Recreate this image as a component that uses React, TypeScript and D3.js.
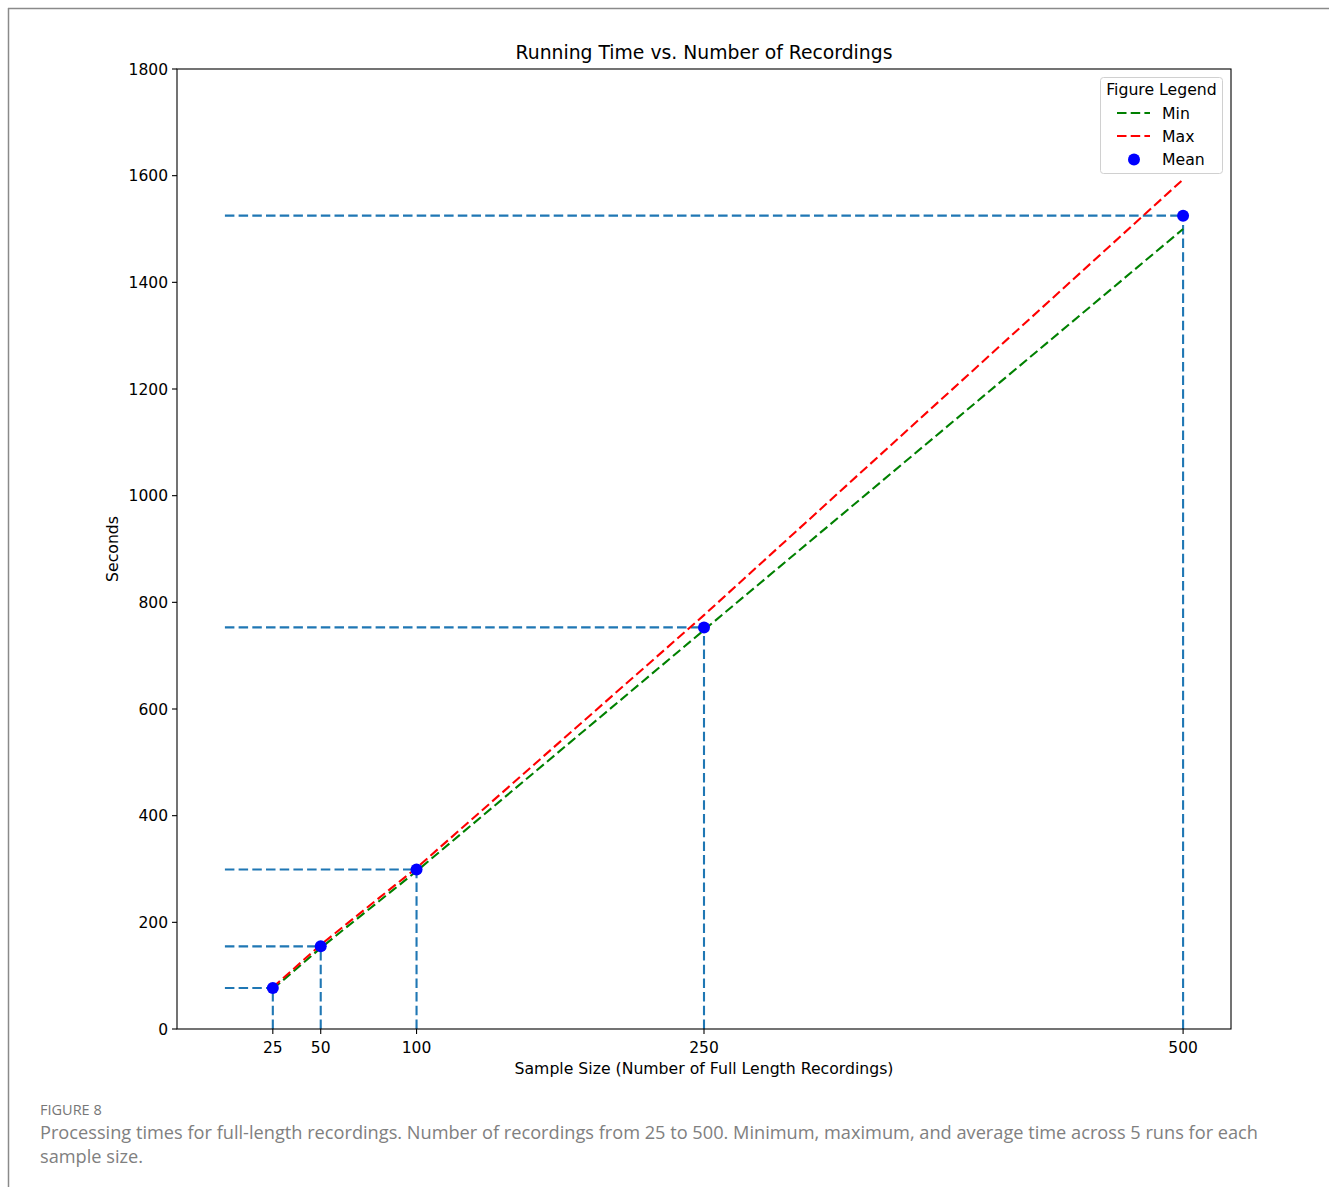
import React from "react";
import * as d3 from "d3";

const sampleSizes = [25, 50, 100, 250, 500];
const meanTimes = [77, 155, 299, 753, 1525];
const minTimes = [75, 152, 296, 748, 1500];
const maxTimes = [78, 158, 302, 776, 1593];
const yTicks = [0, 200, 400, 600, 800, 1000, 1200, 1400, 1600, 1800];
const xTicks = [25, 50, 100, 250, 500];

const W = 1329;
const H = 1187;
const left = 177, right = 1231, top = 69, bottom = 1029;
const FONT = "DejaVu Sans, sans-serif";
const FS = 15.5;

export default function App() {
  const x = d3.scaleLinear().domain([-25, 525]).range([left, right]);
  const y = d3.scaleLinear().domain([0, 1800]).range([bottom, top]);
  const line = d3
    .line<number>()
    .x((_, i) => x(sampleSizes[i]))
    .y((d) => y(d));
  const blue = "#1f77b4";
  const dash = "9.5,4.2";
  return (
    <svg
      width={W}
      height={H}
      style={{ position: "absolute", left: 0, top: 0, background: "#fff" }}
    >
      <rect x={0} y={0} width={W} height={H} fill="#fff" />
      {/* page frame */}
      <line x1={8} y1={8.5} x2={W} y2={8.5} stroke="#8a8a8a" strokeWidth={1.5} />
      <line x1={8.5} y1={8} x2={8.5} y2={H} stroke="#8a8a8a" strokeWidth={1.5} />

      {/* title */}
      <text x={(left + right) / 2} y={59} textAnchor="middle" fontFamily={FONT} fontSize={18.8} fill="#000">
        Running Time vs. Number of Recordings
      </text>

      {/* reference lines */}
      {sampleSizes.map((s, i) => (
        <g key={"ref" + s}>
          <line x1={x(0)} x2={x(s)} y1={y(meanTimes[i])} y2={y(meanTimes[i])} stroke={blue} strokeWidth={2.1} strokeDasharray={dash} />
          <line x1={x(s)} x2={x(s)} y1={y(0)} y2={y(meanTimes[i])} stroke={blue} strokeWidth={2.1} strokeDasharray={dash} />
        </g>
      ))}

      {/* min / max lines */}
      <path d={line(minTimes) || ""} fill="none" stroke="green" strokeWidth={2.1} strokeDasharray={dash} />
      <path d={line(maxTimes) || ""} fill="none" stroke="red" strokeWidth={2.1} strokeDasharray={dash} />

      {/* mean points */}
      {sampleSizes.map((s, i) => (
        <circle key={"m" + s} cx={x(s)} cy={y(meanTimes[i])} r={6} fill="#0000ff" />
      ))}

      {/* axes frame */}
      <rect x={left} y={top} width={right - left} height={bottom - top} fill="none" stroke="#000" strokeWidth={1.1} />

      {/* y ticks */}
      {yTicks.map((t) => (
        <g key={"y" + t}>
          <line x1={left - 5} x2={left} y1={y(t)} y2={y(t)} stroke="#000" strokeWidth={1.1} />
          <text x={left - 9} y={y(t)} dy="0.36em" textAnchor="end" fontFamily={FONT} fontSize={FS} fill="#000">
            {t}
          </text>
        </g>
      ))}

      {/* x ticks */}
      {xTicks.map((t) => (
        <g key={"x" + t}>
          <line x1={x(t)} x2={x(t)} y1={bottom} y2={bottom + 5} stroke="#000" strokeWidth={1.1} />
          <text x={x(t)} y={bottom + 24} textAnchor="middle" fontFamily={FONT} fontSize={FS} fill="#000">
            {t}
          </text>
        </g>
      ))}

      {/* axis labels */}
      <text x={(left + right) / 2} y={1074} textAnchor="middle" fontFamily={FONT} fontSize={15.7} fill="#000">
        Sample Size (Number of Full Length Recordings)
      </text>
      <text
        transform={`translate(118, ${(top + bottom) / 2}) rotate(-90)`}
        textAnchor="middle"
        fontFamily={FONT}
        fontSize={15.7}
        fill="#000"
      >
        Seconds
      </text>

      {/* legend */}
      <g>
        <rect x={1100.5} y={77.5} width={122} height={96} rx={3} fill="#fff" fillOpacity={0.8} stroke="#d0d0d0" strokeWidth={1} />
        <text x={1161.5} y={95} textAnchor="middle" fontFamily={FONT} fontSize={15.7} fill="#000">
          Figure Legend
        </text>
        <line x1={1117} x2={1150} y1={113} y2={113} stroke="green" strokeWidth={2.1} strokeDasharray={dash} />
        <text x={1162} y={118.5} fontFamily={FONT} fontSize={15.7} fill="#000">Min</text>
        <line x1={1117} x2={1150} y1={136} y2={136} stroke="red" strokeWidth={2.1} strokeDasharray={dash} />
        <text x={1162} y={141.5} fontFamily={FONT} fontSize={15.7} fill="#000">Max</text>
        <circle cx={1134} cy={159.5} r={6} fill="#0000ff" />
        <text x={1162} y={165} fontFamily={FONT} fontSize={15.7} fill="#000">Mean</text>
      </g>

      {/* caption */}
      <text x={40} y={1115} fontFamily="Open Sans, sans-serif" fontSize={14.5} fill="#777">
        FIGURE 8
      </text>
      <text x={40} y={1139} fontFamily="Open Sans, sans-serif" fontSize={18.2} fill="#808080">
        Processing times for full-length recordings. Number of recordings from 25 to 500. Minimum, maximum, and average time across 5 runs for each
      </text>
      <text x={40} y={1163} fontFamily="Open Sans, sans-serif" fontSize={18.2} fill="#808080">
        sample size.
      </text>
    </svg>
  );
}
